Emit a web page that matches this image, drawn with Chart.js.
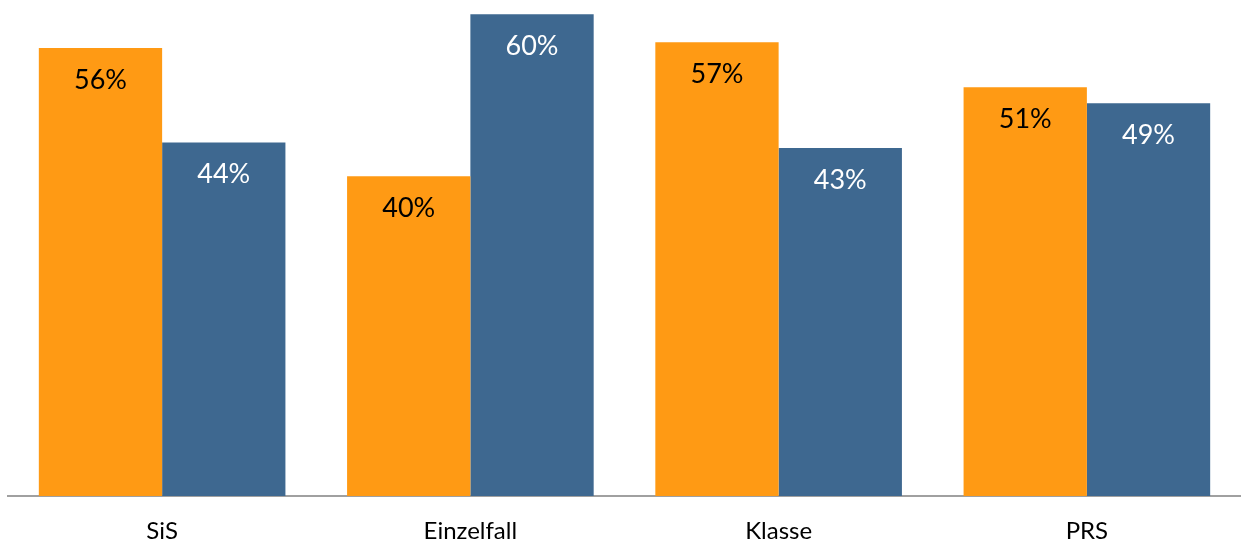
<!DOCTYPE html>
<html>
<head>
<meta charset="utf-8">
<script src="https://cdn.jsdelivr.net/npm/chart.js@4"></script>
<style>
html,body{margin:0;padding:0;background:#fff;}
#wrap{width:1241px;height:544px;position:relative;}
</style>
</head>
<body>
<div id="wrap"><canvas id="c"></canvas></div>
<script>
const categories = ["SiS", "Einzelfall", "Klasse", "PRS"];
const seriesA = [55.9, 39.9, 56.6, 51.0];
const seriesB = [44.1, 60.1, 43.4, 49.0];
const labelsA = ["56%", "40%", "57%", "51%"];
const labelsB = ["44%", "60%", "43%", "49%"];

const FONT = "Lato, 'Open Sans', sans-serif";

const valueLabels = {
  id: 'valueLabels',
  afterDatasetsDraw(chart) {
    const ctx = chart.ctx;
    const texts = [labelsA, labelsB];
    const colors = ['#000000', '#ffffff'];
    chart.data.datasets.forEach((ds, di) => {
      const meta = chart.getDatasetMeta(di);
      meta.data.forEach((bar, i) => {
        ctx.save();
        ctx.font = "27px " + FONT;
        ctx.fillStyle = colors[di];
        ctx.textAlign = 'center';
        ctx.textBaseline = 'middle';
        ctx.fillText(texts[di][i], bar.x, bar.y + 32);
        ctx.restore();
      });
    });
  }
};

new Chart(document.getElementById('c'), {
  type: 'bar',
  data: {
    labels: categories,
    datasets: [
      { data: seriesA, backgroundColor: '#FF9A14', borderWidth: 0 },
      { data: seriesB, backgroundColor: '#3E6890', borderWidth: 0 }
    ]
  },
  options: {
    responsive: true,
    maintainAspectRatio: false,
    animation: false,
    events: [],
    layout: { padding: { left: 8, right: 0, top: 7, bottom: 0 } },
    plugins: { legend: { display: false }, tooltip: { enabled: false } },
    datasets: { bar: { categoryPercentage: 0.8, barPercentage: 1.0 } },
    scales: {
      x: {
        grid: { display: false, drawTicks: false },
        border: { display: true, color: '#a0a0a0', width: 2 },
        ticks: { color: '#000', font: { family: FONT, size: 24, lineHeight: 1.2 }, padding: 21 },
        afterFit(scale) { scale.height = 48; }
      },
      y: {
        display: false,
        min: 0,
        max: 61
      }
    }
  },
  plugins: [valueLabels]
});
</script>
</body>
</html>
